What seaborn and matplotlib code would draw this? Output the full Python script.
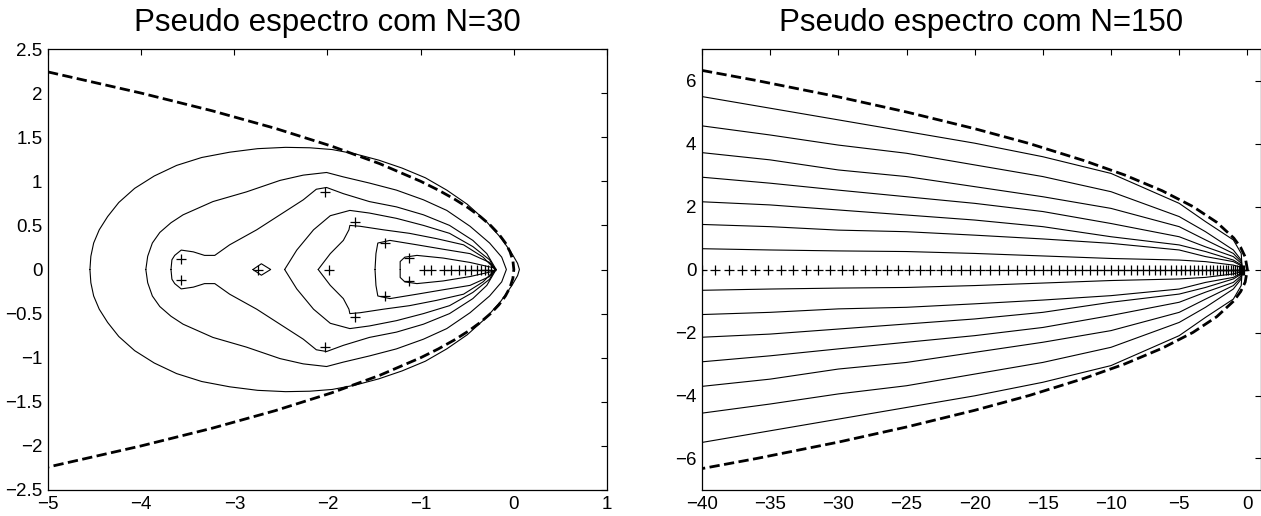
import numpy as np
import pandas as pd
import matplotlib
matplotlib.use("Agg")
import matplotlib.pyplot as plt
import seaborn as sns

# ---------------- data: left panel (N=30) ----------------
left_title = "Pseudo espectro com N=30"
left_xticks = [-5, -4, -3, -2, -1, 0, 1]
left_xticklabels = ["\u22125", "\u22124", "\u22123", "\u22122", "\u22121", "0", "1"]
left_yticks = [-2.5, -2, -1.5, -1, -0.5, 0, 0.5, 1, 1.5, 2, 2.5]
left_yticklabels = ["\u22122.5", "\u22122", "\u22121.5", "\u22121", "\u22120.5", "0",
                    "0.5", "1", "1.5", "2", "2.5"]

# dashed boundary (upper half; chart is symmetric)
left_bound_x = [-5.0, -4.0, -3.24, -2.56, -1.96, -1.44, -1.0, -0.81, -0.64, -0.49,
                -0.36, -0.25, -0.16, -0.09, -0.04, -0.01, 0.0]
left_bound_y = [2.24, 2.0, 1.8, 1.6, 1.4, 1.2, 1.0, 0.9, 0.8, 0.7,
                0.6, 0.5, 0.4, 0.3, 0.2, 0.1, 0.0]

# contour levels (upper halves, from left crossing of real axis to right crossing)
c1_x = [-4.55, -4.54, -4.51, -4.45, -4.36, -4.24, -4.07, -3.86, -3.62, -3.35, -3.05,
        -2.75, -2.45, -2.19, -1.95, -1.70, -1.45, -1.20, -0.95, -0.72, -0.50, -0.30,
        -0.14, -0.02, 0.04, 0.06]
c1_y = [0.0, 0.15, 0.30, 0.45, 0.60, 0.76, 0.92, 1.06, 1.18, 1.27, 1.33,
        1.37, 1.385, 1.38, 1.36, 1.31, 1.24, 1.15, 1.04, 0.90, 0.74, 0.55,
        0.36, 0.18, 0.07, 0.0]
c2_x = [-3.95, -3.93, -3.88, -3.80, -3.68, -3.55, -3.23, -2.87, -2.51, -2.26, -2.01,
        -1.83, -1.55, -1.26, -0.97, -0.72, -0.47, -0.26, -0.13, -0.08]
c2_y = [0.0, 0.15, 0.30, 0.42, 0.53, 0.62, 0.77, 0.88, 1.01, 1.07, 1.10,
        1.05, 0.98, 0.90, 0.79, 0.67, 0.49, 0.30, 0.14, 0.0]
c3_x = [-3.68, -3.67, -3.64, -3.57, -3.44, -3.32, -3.21, -3.05, -2.76, -2.51, -2.26,
        -2.12, -2.01, -1.83, -1.55, -1.26, -0.97, -0.69, -0.44, -0.29, -0.19]
c3_y = [0.0, 0.11, 0.16, 0.22, 0.20, 0.16, 0.16, 0.28, 0.45, 0.62, 0.79,
        0.91, 0.93, 0.86, 0.77, 0.71, 0.62, 0.50, 0.33, 0.18, 0.0]
c4_x = [-2.46, -2.33, -2.15, -1.97, -1.76, -1.55, -1.26, -0.97, -0.69, -0.44, -0.26, -0.20]
c4_y = [0.0, 0.22, 0.45, 0.61, 0.67, 0.64, 0.58, 0.50, 0.41, 0.26, 0.11, 0.0]
c5_x = [-2.10, -1.97, -1.83, -1.77, -1.76, -1.65, -1.40, -1.12, -0.83, -0.54, -0.33, -0.20]
c5_y = [0.0, 0.18, 0.33, 0.45, 0.50, 0.49, 0.45, 0.41, 0.35, 0.28, 0.14, 0.0]
c6_x = [-1.49, -1.48, -1.46, -1.33, -1.04, -0.76, -0.47, -0.26, -0.19]
c6_y = [0.0, 0.18, 0.30, 0.33, 0.28, 0.23, 0.18, 0.08, 0.0]
c7_x = [-1.22, -1.22, -1.17, -1.04, -0.76, -0.47, -0.22, -0.19]
c7_y = [0.0, 0.09, 0.14, 0.16, 0.13, 0.08, 0.02, 0.0]
c8_x = [-2.80, -2.71, -2.61]
c8_y = [0.0, 0.065, 0.0]

# eigenvalues (+ markers)
left_eig_x = [-3.57, -3.57, -2.75, -2.03, -2.03, -1.98, -1.71, -1.71, -1.38, -1.38,
              -1.13, -1.13, -0.96, -0.89, -0.75, -0.67, -0.59, -0.52, -0.46, -0.40,
              -0.35, -0.31, -0.28, -0.25]
left_eig_y = [0.12, -0.12, 0.0, 0.88, -0.88, 0.0, 0.54, -0.54, 0.30, -0.30,
              0.13, -0.13, 0.0, 0.0, 0.0, 0.0, 0.0, 0.0, 0.0, 0.0,
              0.0, 0.0, 0.0, 0.0]

# ---------------- data: right panel (N=150) ----------------
right_title = "Pseudo espectro com N=150"
right_xticks = [-40, -35, -30, -25, -20, -15, -10, -5, 0]
right_xticklabels = ["\u221240", "\u221235", "\u221230", "\u221225", "\u221220",
                     "\u221215", "\u221210", "\u22125", "0"]
right_yticks = [-6, -4, -2, 0, 2, 4, 6]
right_yticklabels = ["\u22126", "\u22124", "\u22122", "0", "2", "4", "6"]

right_bound_x = [-40.0, -36.0, -30.0, -25.0, -20.0, -16.0, -12.0, -9.0, -6.25, -4.0,
                 -2.25, -1.0, -0.49, -0.16, 0.0]
right_bound_y = [6.32, 6.0, 5.48, 5.0, 4.47, 4.0, 3.46, 3.0, 2.5, 2.0,
                 1.5, 1.0, 0.7, 0.4, 0.0]

right_line_x = [-40, -35, -30, -25, -20, -15, -10, -5, -3.07, -1.03, -0.45, -0.38]
r1_y = [5.49, 5.12, 4.75, 4.38, 4.01, 3.58, 3.05, 2.10, 1.52, 0.94, 0.51, 0.0]
r2_y = [4.56, 4.27, 3.95, 3.69, 3.32, 2.95, 2.47, 1.68, 1.20, 0.62, 0.30, 0.0]
r3_y = [3.71, 3.48, 3.16, 2.95, 2.63, 2.31, 1.94, 1.36, 0.94, 0.51, 0.25, 0.0]
r4_y = [2.93, 2.74, 2.52, 2.31, 2.10, 1.84, 1.46, 1.04, 0.72, 0.41, 0.20, 0.0]
r5_y = [2.15, 2.05, 1.89, 1.73, 1.57, 1.36, 1.04, 0.78, 0.57, 0.30, 0.15, 0.0]
r6_y = [1.43, 1.36, 1.25, 1.20, 1.09, 0.97, 0.83, 0.62, 0.41, 0.25, 0.12, 0.0]
r7_y = [0.66, 0.62, 0.59, 0.57, 0.51, 0.43, 0.35, 0.30, 0.25, 0.14, 0.07, 0.0]

right_eig_x = [-0.23, -0.31, -0.40, -0.51, -0.63, -0.76, -0.90, -1.06, -1.23, -1.41,
               -1.60, -1.81, -2.03, -2.26, -2.50, -2.76, -3.03, -3.31, -3.60, -3.91,
               -4.23, -4.56, -4.90, -5.26, -5.63, -6.01, -6.40, -6.81, -7.23, -7.66,
               -8.10, -8.56, -9.03, -9.51, -10.00, -10.51, -11.03, -11.56, -12.10, -12.66,
               -13.23, -13.81, -14.40, -15.01, -15.63, -16.26, -16.90, -17.56, -18.23, -18.91,
               -19.60, -20.31, -21.03, -21.76, -22.50, -23.26, -24.03, -24.81, -25.60, -26.41,
               -27.23, -28.06, -28.90, -29.76, -30.63, -31.51, -32.40, -33.31, -34.23, -35.16,
               -36.10, -37.06, -38.03, -39.01, -40.00]

# ---------------- style ----------------
sns.set_style("white")
plt.rcParams["font.family"] = ["Liberation Sans", "DejaVu Sans"]
plt.rcParams["axes.unicode_minus"] = True
plt.rcParams["text.color"] = "black"
plt.rcParams["axes.labelcolor"] = "black"
plt.rcParams["xtick.color"] = "black"
plt.rcParams["ytick.color"] = "black"

fig = plt.figure(figsize=(12.61, 5.16), dpi=100)
W, H = 1261.0, 516.0
ax1 = fig.add_axes([48 / W, 26 / H, 559 / W, 441 / H])
ax2 = fig.add_axes([702 / W, 26 / H, 559 / W, 441 / H])


def closed(xs, ys):
    xs = list(xs)
    ys = list(ys)
    return xs + xs[::-1][1:], ys + [-v for v in ys[::-1][1:]]


def draw_line(ax, xs, ys, **kw):
    df = pd.DataFrame({"x": xs, "y": ys})
    sns.lineplot(data=df, x="x", y="y", sort=False, estimator=None,
                 color="black", ax=ax, **kw)


# left panel
for cx, cy in [(c1_x, c1_y), (c2_x, c2_y), (c3_x, c3_y), (c4_x, c4_y),
               (c5_x, c5_y), (c6_x, c6_y), (c7_x, c7_y), (c8_x, c8_y)]:
    xs, ys = closed(cx, cy)
    draw_line(ax1, xs, ys, linewidth=0.8)
bx, by = closed(left_bound_x, left_bound_y)
draw_line(ax1, bx, by, linewidth=2.0, linestyle="--")
sns.scatterplot(x=left_eig_x, y=left_eig_y, marker="+", s=60, color="black",
                linewidth=0.9, ax=ax1, zorder=5)

# right panel
for ry in [r1_y, r2_y, r3_y, r4_y, r5_y, r6_y, r7_y]:
    xs, ys = closed(right_line_x, ry)
    draw_line(ax2, xs, ys, linewidth=0.8)
bx, by = closed(right_bound_x, right_bound_y)
draw_line(ax2, bx, by, linewidth=2.0, linestyle="--")
sns.scatterplot(x=right_eig_x, y=[0.0] * len(right_eig_x), marker="+", s=60,
                color="black", linewidth=0.9, ax=ax2, zorder=5)

# axes cosmetics
ax1.set_xlim(-5, 1)
ax1.set_ylim(-2.5, 2.5)
ax1.set_xticks(left_xticks)
ax1.set_xticklabels(left_xticklabels)
ax1.set_yticks(left_yticks)
ax1.set_yticklabels(left_yticklabels)
ax1.set_title(left_title, fontsize=22.5, pad=13, color="black")

ax2.set_xlim(-40, 1)
ax2.set_ylim(-7, 7)
ax2.set_xticks(right_xticks)
ax2.set_xticklabels(right_xticklabels)
ax2.set_yticks(right_yticks)
ax2.set_yticklabels(right_yticklabels)
ax2.set_title(right_title, fontsize=22.5, pad=13, color="black")

for ax in (ax1, ax2):
    ax.set_xlabel("")
    ax.set_ylabel("")
    ax.tick_params(direction="in", length=4, width=0.8, top=True, right=True,
                   labelsize=13.5, pad=4, colors="black")
    for sp in ax.spines.values():
        sp.set_color("black")
        sp.set_linewidth(0.9)
        sp.set_visible(True)
    ax.grid(False)

fig.savefig("out.png", dpi=100)
